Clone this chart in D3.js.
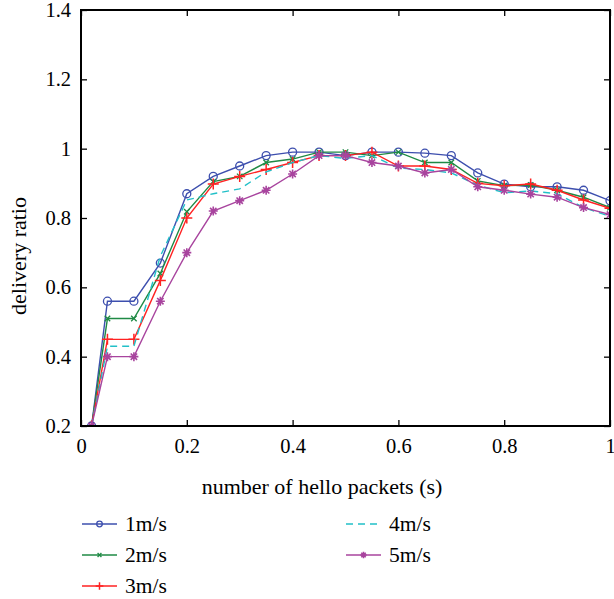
<!DOCTYPE html>
<html>
<head>
<meta charset="utf-8">
<script src="https://cdn.jsdelivr.net/npm/d3@7"></script>
<style>
  body { margin: 0; background: #fff; }
  svg { display: block; }
</style>
</head>
<body>
<svg id="chart" width="614" height="599"></svg>
<script>
// Hello interval (s) on the x axis
const xValues = [0.02, 0.05, 0.1, 0.15, 0.2, 0.25, 0.3, 0.35, 0.4, 0.45, 0.5, 0.55, 0.6, 0.65, 0.7, 0.75, 0.8, 0.85, 0.9, 0.95, 1.0];

// Delivery ratio per node speed
const speed1 = [0.2, 0.56, 0.56, 0.67, 0.87, 0.92, 0.95, 0.98, 0.99, 0.99, 0.98, 0.99, 0.99, 0.987, 0.98, 0.93, 0.898, 0.89, 0.89, 0.88, 0.85];
const speed2 = [0.2, 0.51, 0.51, 0.64, 0.818, 0.905, 0.92, 0.96, 0.97, 0.99, 0.99, 0.98, 0.99, 0.96, 0.96, 0.907, 0.893, 0.895, 0.88, 0.86, 0.83];
const speed3 = [0.2, 0.45, 0.45, 0.62, 0.80, 0.898, 0.92, 0.94, 0.96, 0.98, 0.98, 0.99, 0.95, 0.95, 0.94, 0.90, 0.893, 0.898, 0.88, 0.852, 0.828];
const speed4 = [0.2, 0.43, 0.43, 0.69, 0.852, 0.87, 0.884, 0.933, 0.96, 0.98, 0.972, 0.98, 0.944, 0.94, 0.93, 0.895, 0.873, 0.878, 0.87, 0.83, 0.805];
const speed5 = [0.2, 0.40, 0.40, 0.56, 0.70, 0.82, 0.85, 0.88, 0.927, 0.98, 0.98, 0.96, 0.95, 0.93, 0.94, 0.89, 0.88, 0.869, 0.86, 0.83, 0.81];

const seriesNames = ["1m/s", "2m/s", "3m/s", "4m/s", "5m/s"];
const xTicks = [0, 0.2, 0.4, 0.6, 0.8, 1];
const yTicks = [0.2, 0.4, 0.6, 0.8, 1, 1.2, 1.4];
const xTickLabels = ["0", "0.2", "0.4", "0.6", "0.8", "1"];
const yTickLabels = ["0.2", "0.4", "0.6", "0.8", "1", "1.2", "1.4"];

const FONT = '"Liberation Serif"';

const series = [
  { name: seriesNames[0], values: speed1, color: "#3d4fae", marker: "circle", dash: null },
  { name: seriesNames[1], values: speed2, color: "#1f8a45", marker: "x", dash: null },
  { name: seriesNames[2], values: speed3, color: "#ff2222", marker: "plus", dash: null },
  { name: seriesNames[3], values: speed4, color: "#22c0c8", marker: "none", dash: "7,5" },
  { name: seriesNames[4], values: speed5, color: "#a8449e", marker: "star", dash: null }
];

const svg = d3.select("#chart");
const plot = { left: 81, right: 610, top: 10, bottom: 426 };

const x = d3.scaleLinear().domain([0, 1]).range([plot.left, plot.right]);
const y = d3.scaleLinear().domain([0.2, 1.4]).range([plot.bottom, plot.top]);

svg.append("defs").append("clipPath").attr("id", "plotClip")
  .append("rect")
  .attr("x", plot.left).attr("y", plot.top)
  .attr("width", plot.right - plot.left).attr("height", plot.bottom - plot.top);

// Axes with inward ticks on all four sides
const tickLen = 6;
const axisBottom = d3.axisBottom(x).tickValues(xTicks).tickSizeInner(-tickLen).tickSizeOuter(0)
  .tickFormat((d, i) => xTickLabels[i]).tickPadding(12);
const axisTop = d3.axisTop(x).tickValues(xTicks).tickSizeInner(-tickLen).tickSizeOuter(0).tickFormat("");
const axisLeft = d3.axisLeft(y).tickValues(yTicks).tickSizeInner(-tickLen).tickSizeOuter(0)
  .tickFormat((d, i) => yTickLabels[i]).tickPadding(10);
const axisRight = d3.axisRight(y).tickValues(yTicks).tickSizeInner(-tickLen).tickSizeOuter(0).tickFormat("");

function styleAxis(g) {
  g.attr("font-family", null).attr("font-size", null);
  g.select(".domain").remove();
  g.selectAll(".tick line").attr("stroke", "#000").attr("stroke-width", 1.3);
  g.selectAll(".tick text").attr("fill", "#000")
    .style("font-family", FONT).style("font-size", "20.5px");
}

svg.append("g").attr("transform", `translate(0,${plot.bottom})`).call(axisBottom).call(styleAxis);
svg.append("g").attr("transform", `translate(0,${plot.top})`).call(axisTop).call(styleAxis);
svg.append("g").attr("transform", `translate(${plot.left},0)`).call(axisLeft).call(styleAxis);
svg.append("g").attr("transform", `translate(${plot.right},0)`).call(axisRight).call(styleAxis);

// Series lines and markers
const line = d3.line().x((d, i) => x(xValues[i])).y(d => y(d));
const dataG = svg.append("g").attr("clip-path", "url(#plotClip)");

function drawMarker(g, type, cx, cy, color, size) {
  const s = size;
  if (type === "circle") {
    g.append("circle").attr("cx", cx).attr("cy", cy).attr("r", s * 0.8)
      .attr("fill", "none").attr("stroke", color).attr("stroke-width", 1.3);
  } else if (type === "x") {
    const a = s * 0.55;
    g.append("path").attr("d", `M${cx - a},${cy - a}L${cx + a},${cy + a}M${cx - a},${cy + a}L${cx + a},${cy - a}`)
      .attr("stroke", color).attr("stroke-width", 1.3).attr("fill", "none");
  } else if (type === "plus") {
    const a = s * 1.1;
    g.append("path").attr("d", `M${cx - a},${cy}L${cx + a},${cy}M${cx},${cy - a}L${cx},${cy + a}`)
      .attr("stroke", color).attr("stroke-width", 1.5).attr("fill", "none");
  } else if (type === "star") {
    const a = s * 0.9;
    const b = a * 0.707;
    g.append("path").attr("d",
      `M${cx - a},${cy}L${cx + a},${cy}M${cx},${cy - a}L${cx},${cy + a}` +
      `M${cx - b},${cy - b}L${cx + b},${cy + b}M${cx - b},${cy + b}L${cx + b},${cy - b}`)
      .attr("stroke", color).attr("stroke-width", 1.6).attr("fill", "none");
    g.append("circle").attr("cx", cx).attr("cy", cy).attr("r", 1.8).attr("fill", color);
  }
}

series.forEach(s => {
  dataG.append("path")
    .datum(s.values)
    .attr("d", line)
    .attr("fill", "none")
    .attr("stroke", s.color)
    .attr("stroke-width", 1.4)
    .attr("stroke-dasharray", s.dash);
  const mg = dataG.append("g");
  s.values.forEach((v, i) => drawMarker(mg, s.marker, x(xValues[i]), y(v), s.color, 5));
});

// Plot frame
svg.append("rect")
  .attr("x", plot.left).attr("y", plot.top)
  .attr("width", plot.right - plot.left).attr("height", plot.bottom - plot.top)
  .attr("fill", "none").attr("stroke", "#000").attr("stroke-width", 2);

// Axis titles
svg.append("text")
  .attr("x", 322).attr("y", 494)
  .attr("text-anchor", "middle")
  .style("font-family", FONT).style("font-size", "22px")
  .text("number of hello packets (s)");

svg.append("text")
  .attr("transform", `translate(26,256) rotate(-90)`)
  .attr("text-anchor", "middle")
  .style("font-family", FONT).style("font-size", "22px")
  .text("delivery ratio");

// Legend, two columns
const legendPos = [
  { x: 82, y: 524 }, { x: 82, y: 555 }, { x: 82, y: 586 },
  { x: 346, y: 524 }, { x: 346, y: 555 }
];
series.forEach((s, i) => {
  const p = legendPos[i];
  const g = svg.append("g");
  g.append("line").attr("x1", p.x).attr("x2", p.x + 35).attr("y1", p.y).attr("y2", p.y)
    .attr("stroke", s.color).attr("stroke-width", 1.4).attr("stroke-dasharray", s.dash);
  drawMarker(g, s.marker, p.x + 17.5, p.y, s.color, 3.5);
  g.append("text").attr("x", p.x + 43).attr("y", p.y + 7)
    .style("font-family", FONT).style("font-size", "21.5px")
    .text(s.name);
});
</script>
</body>
</html>
